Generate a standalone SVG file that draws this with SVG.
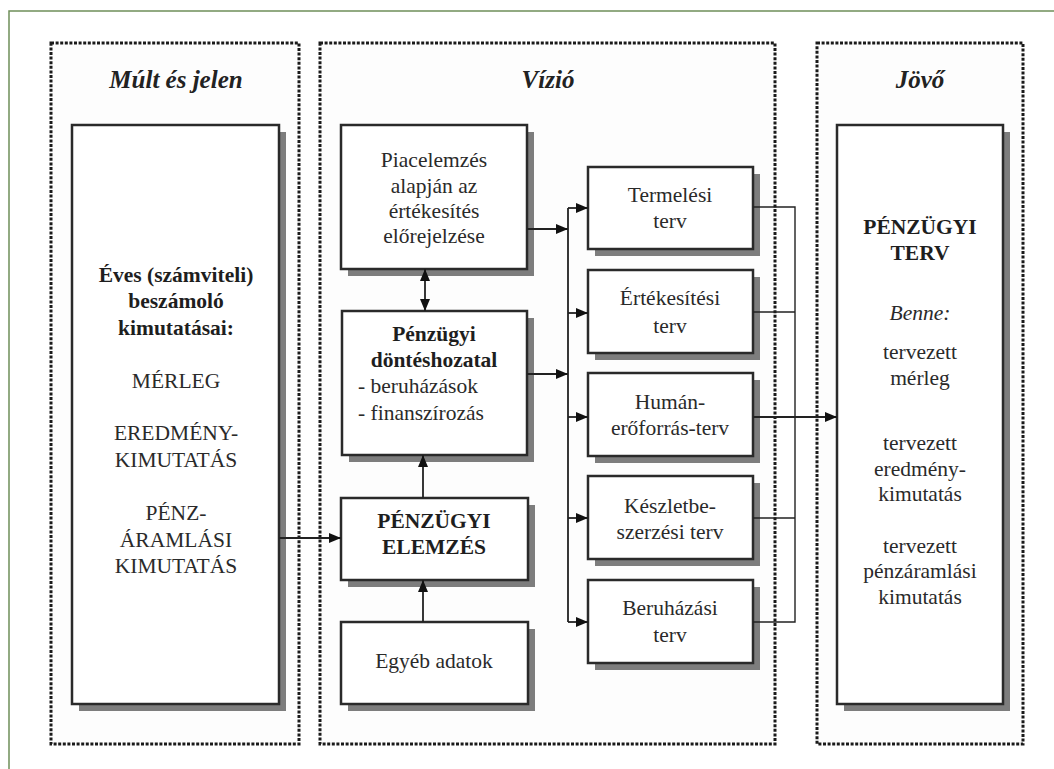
<svg xmlns="http://www.w3.org/2000/svg" width="1054" height="769" viewBox="0 0 1054 769">
<defs>
<style>
.frame{fill:none;stroke:#6f8f5a;stroke-width:1.5}
.cont{fill:#fdfdfd;stroke:#1a1a1a;stroke-width:3;stroke-dasharray:3 1.6}
.shadow{fill:#7d7d7d}
.box{fill:#fff;stroke:#2a2a2a;stroke-width:2.5}
.c{fill:none;stroke:#222;stroke-width:1.8}
</style>
<marker id="arr" viewBox="0 0 12 10" refX="12" refY="5" markerWidth="12" markerHeight="10" markerUnits="userSpaceOnUse" orient="auto-start-reverse">
<path d="M0,0 L12,5 L0,10 z" fill="#111"/>
</marker>
</defs>
<rect width="1054" height="769" fill="#fff"/>
<path class="frame" d="M9,769 V11 H1054"/>

<g font-family="Liberation Serif, serif" font-size="25" font-weight="bold" font-style="italic" fill="#222" text-anchor="middle">
<g id="col-past">
<rect class="cont" x="51" y="43" width="248" height="701"/>
<text x="176" y="88">Múlt és jelen</text>
</g>
<g id="col-vision">
<rect class="cont" x="320" y="43" width="455" height="701"/>
<text x="548" y="88">Vízió</text>
</g>
<g id="col-future">
<rect class="cont" x="817" y="43" width="206" height="701"/>
<text x="920" y="88">Jövő</text>
</g>
</g>

<g font-family="Liberation Serif, serif" font-size="21.5" fill="#2a2a2a" text-anchor="middle">
<g id="n-eves">
<rect class="shadow" x="79" y="132" width="207" height="579"/>
<rect class="box" x="72" y="125" width="207" height="579"/>
<g font-weight="bold" fill="#1e1e1e">
<text x="176" y="282">Éves (számviteli)</text>
<text x="176" y="308">beszámoló</text>
<text x="176" y="335">kimutatásai:</text>
</g>
<text x="176" y="388">MÉRLEG</text>
<text x="176" y="440">EREDMÉNY-</text>
<text x="176" y="467">KIMUTATÁS</text>
<text x="176" y="520">PÉNZ-</text>
<text x="176" y="547">ÁRAMLÁSI</text>
<text x="176" y="573">KIMUTATÁS</text>
</g>

<g id="n-piac">
<rect class="shadow" x="348" y="132" width="186" height="144"/>
<rect class="box" x="341" y="125" width="186" height="144"/>
<text x="434" y="167">Piacelemzés</text>
<text x="434" y="193">alapján az</text>
<text x="434" y="218">értékesítés</text>
<text x="434" y="243">előrejelzése</text>
</g>

<g id="n-dontes">
<rect class="shadow" x="349" y="318" width="185" height="144"/>
<rect class="box" x="342" y="311" width="185" height="144"/>
<text x="434" y="341" font-weight="bold" fill="#1e1e1e">Pénzügyi</text>
<text x="434" y="367" font-weight="bold" fill="#1e1e1e">döntéshozatal</text>
<text x="358" y="393" text-anchor="start">- beruházások</text>
<text x="358" y="420" text-anchor="start">- finanszírozás</text>
</g>

<g id="n-elemzes">
<rect class="shadow" x="348" y="505" width="187" height="82"/>
<rect class="box" x="341" y="498" width="187" height="82"/>
<text x="434" y="528" font-weight="bold" fill="#1e1e1e">PÉNZÜGYI</text>
<text x="434" y="554" font-weight="bold" fill="#1e1e1e">ELEMZÉS</text>
</g>

<g id="n-egyeb">
<rect class="shadow" x="348" y="629" width="187" height="82"/>
<rect class="box" x="341" y="622" width="187" height="82"/>
<text x="434" y="668">Egyéb adatok</text>
</g>

<g id="n-termelesi">
<rect class="shadow" x="595" y="174" width="165" height="82"/>
<rect class="box" x="588" y="167" width="165" height="82"/>
<text x="670" y="202">Termelési</text>
<text x="670" y="228">terv</text>
</g>
<g id="n-ertekesitesi">
<rect class="shadow" x="595" y="277" width="165" height="83"/>
<rect class="box" x="588" y="270" width="165" height="83"/>
<text x="670" y="305">Értékesítési</text>
<text x="670" y="333">terv</text>
</g>
<g id="n-human">
<rect class="shadow" x="595" y="380" width="165" height="83"/>
<rect class="box" x="588" y="373" width="165" height="83"/>
<text x="670" y="409">Humán-</text>
<text x="670" y="435">erőforrás-terv</text>
</g>
<g id="n-keszlet">
<rect class="shadow" x="595" y="483" width="165" height="83"/>
<rect class="box" x="588" y="476" width="165" height="83"/>
<text x="670" y="513">Készletbe-</text>
<text x="670" y="539">szerzési terv</text>
</g>
<g id="n-beruhazasi">
<rect class="shadow" x="595" y="587" width="165" height="83"/>
<rect class="box" x="588" y="580" width="165" height="83"/>
<text x="670" y="615">Beruházási</text>
<text x="670" y="642">terv</text>
</g>

<g id="n-penzugyi-terv">
<rect class="shadow" x="844" y="132" width="166" height="579"/>
<rect class="box" x="837" y="125" width="166" height="579"/>
<text x="920" y="234" font-weight="bold" fill="#1e1e1e">PÉNZÜGYI</text>
<text x="920" y="260" font-weight="bold" fill="#1e1e1e">TERV</text>
<text x="920" y="320" font-style="italic">Benne:</text>
<text x="920" y="359">tervezett</text>
<text x="920" y="385">mérleg</text>
<text x="920" y="450">tervezett</text>
<text x="920" y="476">eredmény-</text>
<text x="920" y="501">kimutatás</text>
<text x="920" y="553">tervezett</text>
<text x="920" y="578">pénzáramlási</text>
<text x="920" y="604">kimutatás</text>
</g>
</g>

<g id="connectors">
<path class="c" d="M279,538 H341" marker-end="url(#arr)"/>
<path class="c" d="M423,622 V580" marker-end="url(#arr)"/>
<path class="c" d="M423,498 V455" marker-end="url(#arr)"/>
<path class="c" d="M425,269 V311" marker-start="url(#arr)" marker-end="url(#arr)"/>
<path class="c" d="M527,229 H568" marker-end="url(#arr)"/>
<path class="c" d="M527,374 H568" marker-end="url(#arr)"/>
<path class="c" d="M568,208 V622"/>
<path class="c" d="M568,208 H588" marker-end="url(#arr)"/>
<path class="c" d="M568,313 H588" marker-end="url(#arr)"/>
<path class="c" d="M568,417 H588" marker-end="url(#arr)"/>
<path class="c" d="M568,518 H588" marker-end="url(#arr)"/>
<path class="c" d="M568,622 H588" marker-end="url(#arr)"/>
<path class="c" style="stroke-width:1.4" d="M753,207 H795 V622 H753 M753,312 H795 M753,518 H795"/>
<path class="c" d="M753,417 H837" marker-end="url(#arr)"/>
</g>
</svg>
